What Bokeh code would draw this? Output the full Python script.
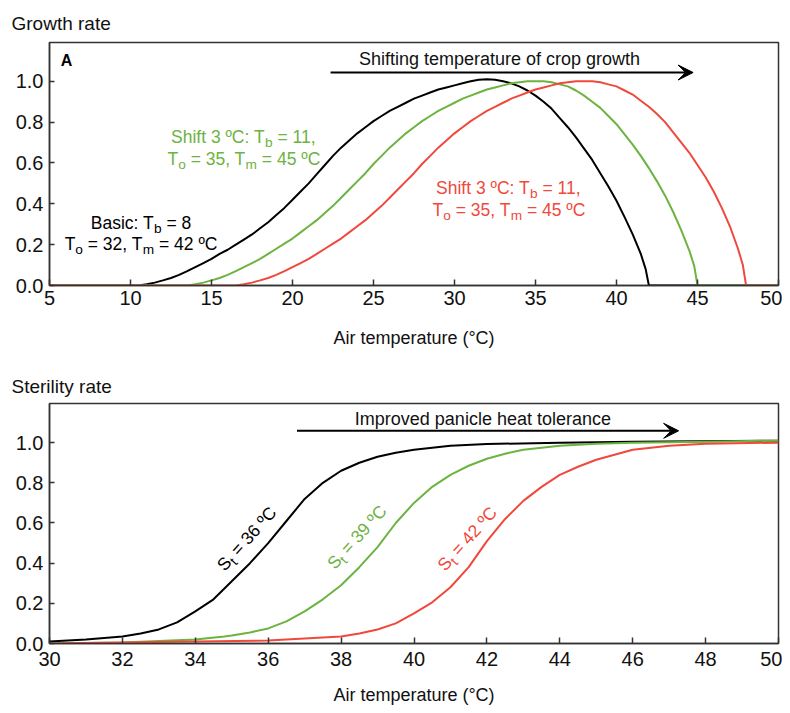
import math
from bokeh.plotting import figure
from bokeh.models import Range1d, FixedTicker, Label, Arrow, VeeHead, NumeralTickFormatter
from bokeh.layouts import column
from bokeh.embed import file_html
from bokeh.resources import INLINE

FONT = "Liberation Sans"
BLACK = "#000000"
GREEN = "#6cb33f"
RED = "#f0493c"
AXIS = "#333333"
TXT = "#111111"

# ---------------- data: growth rate ----------------
growth_x_ticks = [5, 10, 15, 20, 25, 30, 35, 40, 45, 50]
growth_x_labels = ["5", "10", "15", "20", "25", "30", "35", "40", "45", "50"]
rate_y_ticks = [0.0, 0.2, 0.4, 0.6, 0.8, 1.0]
rate_y_labels = ["0.0", "0.2", "0.4", "0.6", "0.8", "1.0"]

basic_temp = [5, 10.5, 11, 11.5, 12, 12.5, 13, 13.5, 14, 14.5, 15, 15.5, 16, 16.5, 17, 17.5, 18,
              18.5, 19, 19.5, 20, 20.5, 21, 21.5, 22, 22.5, 23, 23.5, 24, 24.5, 25, 25.5, 26, 26.5,
              27, 27.5, 28, 28.5, 29, 29.5, 30, 30.5, 31, 31.5, 32, 32.5, 33, 33.5, 34, 34.5, 35,
              35.5, 36, 36.5, 37, 37.5, 38, 38.5, 39, 39.5, 40, 40.5, 41, 41.5, 41.8, 42, 50]
basic_rate = [0, 0, 0.006, 0.014, 0.025, 0.037, 0.052, 0.07, 0.09, 0.11, 0.13, 0.155, 0.175, 0.2,
              0.225, 0.25, 0.28, 0.31, 0.345, 0.38, 0.42, 0.46, 0.5, 0.545, 0.59, 0.635, 0.675,
              0.71, 0.745, 0.775, 0.805, 0.83, 0.855, 0.875, 0.895, 0.915, 0.93, 0.945, 0.96, 0.97,
              0.98, 0.99, 1.0, 1.008, 1.01, 1.008, 1.0, 0.99, 0.975, 0.955, 0.93, 0.9, 0.865, 0.82,
              0.775, 0.725, 0.67, 0.615, 0.55, 0.485, 0.415, 0.335, 0.25, 0.155, 0.08, 0, 0]

shift3_temp = [5, 13.5, 14, 14.5, 15, 15.5, 16, 16.5, 17, 17.5, 18, 18.5, 19, 19.5, 20, 20.5, 21,
               21.5, 22, 22.5, 23, 23.5, 24, 24.5, 25, 25.5, 26, 26.5, 27, 27.5, 28, 28.5, 29, 29.5,
               30, 30.5, 31, 31.5, 32, 32.5, 33, 33.5, 34, 34.5, 35, 35.5, 36, 36.5, 37, 37.5, 38,
               38.5, 39, 39.5, 40, 40.5, 41, 41.5, 42, 42.5, 43, 43.5, 44, 44.5, 44.8, 45, 50]
shift3_rate = [0, 0, 0.006, 0.014, 0.025, 0.037, 0.052, 0.07, 0.09, 0.11, 0.13, 0.155, 0.18, 0.205,
               0.23, 0.26, 0.29, 0.32, 0.355, 0.39, 0.43, 0.47, 0.51, 0.55, 0.595, 0.635, 0.675,
               0.71, 0.745, 0.775, 0.805, 0.83, 0.855, 0.875, 0.895, 0.915, 0.93, 0.945, 0.96, 0.97,
               0.98, 0.99, 0.995, 1.0, 1.0, 1.0, 0.995, 0.985, 0.975, 0.955, 0.93, 0.9, 0.87, 0.83,
               0.79, 0.74, 0.69, 0.635, 0.575, 0.51, 0.44, 0.36, 0.27, 0.17, 0.095, 0, 0]

shift6_temp = [5, 16.5, 17, 17.5, 18, 18.5, 19, 19.5, 20, 20.5, 21, 21.5, 22, 22.5, 23, 23.5, 24,
               24.5, 25, 25.5, 26, 26.5, 27, 27.5, 28, 28.5, 29, 29.5, 30, 30.5, 31, 31.5, 32, 32.5,
               33, 33.5, 34, 34.5, 35, 35.5, 36, 36.5, 37, 37.5, 38, 38.5, 39, 39.5, 40, 40.5, 41,
               41.5, 42, 42.5, 43, 43.5, 44, 44.5, 45, 45.5, 46, 46.5, 47, 47.5, 47.8, 48, 50]
shift6_rate = [0, 0, 0.006, 0.014, 0.025, 0.037, 0.052, 0.07, 0.09, 0.11, 0.13, 0.155, 0.18, 0.205,
               0.23, 0.26, 0.29, 0.32, 0.355, 0.39, 0.43, 0.47, 0.51, 0.55, 0.595, 0.635, 0.675,
               0.71, 0.745, 0.775, 0.805, 0.83, 0.855, 0.875, 0.895, 0.915, 0.93, 0.945, 0.96, 0.97,
               0.98, 0.99, 0.995, 1.0, 1.0, 1.0, 0.995, 0.985, 0.975, 0.955, 0.935, 0.905, 0.875,
               0.84, 0.80, 0.75, 0.70, 0.65, 0.59, 0.53, 0.46, 0.38, 0.29, 0.18, 0.10, 0, 0]

# ---------------- data: sterility rate ----------------
ster_x_ticks = [30, 32, 34, 36, 38, 40, 42, 44, 46, 48, 50]
ster_x_labels = ["30", "32", "34", "36", "38", "40", "42", "44", "46", "48", "50"]

st36_temp = [30, 31, 32, 32.5, 33, 33.5, 34, 34.5, 35, 35.5, 36, 36.5, 37, 37.5, 38, 38.5, 39,
             39.5, 40, 41, 42, 44, 46, 50]
st36_rate = [0.01, 0.02, 0.035, 0.05, 0.07, 0.105, 0.16, 0.22, 0.31, 0.40, 0.50, 0.61, 0.72, 0.80,
             0.86, 0.90, 0.93, 0.95, 0.965, 0.985, 0.993, 1.0, 1.005, 1.01]

st39_temp = [30, 32, 34, 34.8, 35, 35.5, 36, 36.5, 37, 37.5, 38, 38.5, 39, 39.5, 40, 40.5, 41,
             41.5, 42, 42.5, 43, 44, 45, 46, 48, 50]
st39_rate = [0.0, 0.005, 0.02, 0.035, 0.04, 0.055, 0.075, 0.11, 0.16, 0.22, 0.29, 0.38, 0.48, 0.60,
             0.70, 0.78, 0.84, 0.885, 0.92, 0.945, 0.965, 0.985, 0.995, 1.0, 1.005, 1.01]

st42_temp = [30, 34, 36, 38, 38.5, 39, 39.5, 40, 40.5, 41, 41.5, 42, 42.5, 43, 43.5, 44, 44.5, 45,
             46, 47, 48, 50]
st42_rate = [0.0, 0.01, 0.015, 0.035, 0.05, 0.07, 0.10, 0.15, 0.205, 0.28, 0.38, 0.51, 0.62, 0.71,
             0.78, 0.84, 0.88, 0.915, 0.965, 0.985, 0.995, 1.0]

# ---------------- helpers ----------------
ARIAL_W = {' ': 278, 'S': 667, 'h': 556, 'i': 222, 'f': 278, 't': 278, 'º': 365, 'C': 722,
           ':': 278, 'T': 611, 'b': 556, '=': 584, ',': 278, 'o': 556, 'm': 833, 'B': 667,
           'a': 556, 's': 500, 'c': 500, '°': 400}


def text_width(s, fs):
    return sum(ARIAL_W.get(c, 556) for c in s) * fs / 1000.0


def rich_text(p, x, y, pieces, fs, color, angle_deg=0.0):
    """Centered text with subscript pieces; (x, y) is the centre of the main text."""
    sub_fs = fs * 0.78
    drop = fs * 0.25 + 0.35 * (fs - sub_fs)
    a = math.radians(angle_deg)
    ca, sa = math.cos(a), math.sin(a)
    widths = [text_width(t, sub_fs if sub else fs) for t, sub in pieces]
    s = -sum(widths) / 2.0
    for (t, sub), w in zip(pieces, widths):
        size = sub_fs if sub else fs
        lead = len(t) - len(t.lstrip(' '))
        s0 = s + lead * 278 * size / 1000.0
        h = drop if sub else 0.0
        stripped = t.strip(' ')
        if stripped:
            p.add_layout(Label(x=x, y=y, x_offset=s0 * ca + h * sa, y_offset=s0 * sa - h * ca,
                               text=stripped, angle=a, text_font=FONT,
                               text_font_size=f"{size:.1f}px", text_color=color,
                               text_align="left", text_baseline="middle"))
        s += w


def style(p, xticks, xlabels, tick_standoff, label_standoff, title, title_standoff):
    p.xaxis.ticker = FixedTicker(ticks=xticks)
    p.xaxis.major_label_overrides = {t: l for t, l in zip(xticks, xlabels)}
    p.yaxis.ticker = FixedTicker(ticks=rate_y_ticks)
    p.yaxis.major_label_overrides = {t: l for t, l in zip(rate_y_ticks, rate_y_labels)}
    p.yaxis.formatter = NumeralTickFormatter(format="0.0")
    for ax in (p.xaxis[0], p.yaxis[0]):
        ax.major_tick_in = 6
        ax.major_tick_out = 0
        ax.minor_tick_line_color = None
        ax.axis_line_color = AXIS
        ax.axis_line_width = 1.5
        ax.major_tick_line_color = AXIS
        ax.major_tick_line_width = 1.5
        ax.major_label_text_font = FONT
        ax.major_label_text_font_size = "20px"
        ax.major_label_text_color = TXT
    p.yaxis.major_tick_in = 5
    p.xaxis.major_label_standoff = tick_standoff
    p.yaxis.major_label_standoff = 6
    p.xaxis.axis_label = "Air temperature (°C)"
    p.xaxis.axis_label_text_font = FONT
    p.xaxis.axis_label_text_font_size = "18px"
    p.xaxis.axis_label_text_font_style = "normal"
    p.xaxis.axis_label_text_color = TXT
    p.xaxis.axis_label_standoff = label_standoff
    p.xgrid.visible = False
    p.ygrid.visible = False
    p.outline_line_color = AXIS
    p.outline_line_width = 1.5
    p.outline_line_alpha = 1.0
    p.title.text = title
    p.title.align = "left"
    p.title.offset = -38
    p.title.standoff = title_standoff
    p.title.text_font = FONT
    p.title.text_font_size = "19px"
    p.title.text_font_style = "normal"
    p.title.text_color = TXT


# ---------------- top: growth rate ----------------
p1 = figure(width=782, height=351, x_range=Range1d(5, 50), y_range=Range1d(0, 1.19),
            output_backend="svg", toolbar_location=None,
            min_border_left=49, min_border_right=4, min_border_top=42, min_border_bottom=66)
style(p1, growth_x_ticks, growth_x_labels, 5, 20, "Growth rate", 18)

p1.line(basic_temp, basic_rate, line_color=BLACK, line_width=2)
p1.line(shift3_temp, shift3_rate, line_color=GREEN, line_width=2)
p1.line(shift6_temp, shift6_rate, line_color=RED, line_width=2)

p1.add_layout(Label(x=5.7, y=1.103, text="A", text_font=FONT, text_font_size="16px",
                    text_font_style="bold", text_color=BLACK, text_baseline="middle"))
p1.add_layout(Arrow(x_start=22.35, y_start=1.043, x_end=44.73, y_end=1.043, line_width=2,
                    line_color=BLACK,
                    end=VeeHead(size=15, fill_color=BLACK, line_color=BLACK, line_width=1)))
p1.add_layout(Label(x=32.78, y=1.107, text="Shifting temperature of crop growth",
                    text_font=FONT, text_font_size="18px", text_color=TXT,
                    text_align="center", text_baseline="middle"))

FS = 17.5
rich_text(p1, 10.65, 0.308, [("Basic: T", False), ("b", True), (" = 8", False)], FS, BLACK)
rich_text(p1, 10.65, 0.204, [("T", False), ("o", True), (" = 32, T", False), ("m", True),
                             (" = 42 ºC", False)], FS, BLACK)
rich_text(p1, 17.0, 0.727, [("Shift 3 ºC: T", False), ("b", True), (" = 11,", False)], FS, GREEN)
rich_text(p1, 17.0, 0.621, [("T", False), ("o", True), (" = 35, T", False), ("m", True),
                            (" = 45 ºC", False)], FS, GREEN)
rich_text(p1, 33.36, 0.478, [("Shift 3 ºC: T", False), ("b", True), (" = 11,", False)], FS, RED)
rich_text(p1, 33.36, 0.371, [("T", False), ("o", True), (" = 35, T", False), ("m", True),
                             (" = 45 ºC", False)], FS, RED)

# ---------------- bottom: sterility rate ----------------
p2 = figure(width=782, height=356, x_range=Range1d(30, 50), y_range=Range1d(0, 1.195),
            output_backend="svg", toolbar_location=None,
            min_border_left=49, min_border_right=4, min_border_top=52, min_border_bottom=62)
style(p2, ster_x_ticks, ster_x_labels, 8, 16, "Sterility rate", 13)

p2.line(st36_temp, st36_rate, line_color=BLACK, line_width=2)
p2.line(st39_temp, st39_rate, line_color=GREEN, line_width=2)
p2.line(st42_temp, st42_rate, line_color=RED, line_width=2)

p2.add_layout(Arrow(x_start=36.79, y_start=1.059, x_end=47.26, y_end=1.059, line_width=2,
                    line_color=BLACK,
                    end=VeeHead(size=15, fill_color=BLACK, line_color=BLACK, line_width=1)))
p2.add_layout(Label(x=41.89, y=1.117, text="Improved panicle heat tolerance",
                    text_font=FONT, text_font_size="18px", text_color=TXT,
                    text_align="center", text_baseline="middle"))

ANG = 48
rich_text(p2, 35.41, 0.522, [("S", False), ("t", True), (" = 36 ºC", False)], FS, BLACK, ANG)
rich_text(p2, 38.43, 0.530, [("S", False), ("t", True), (" = 39 ºC", False)], FS, GREEN, ANG)
rich_text(p2, 41.46, 0.522, [("S", False), ("t", True), (" = 42 ºC", False)], FS, RED, ANG)

layout = column(p1, p2)
open("out.html", "w").write(file_html(layout, INLINE))
